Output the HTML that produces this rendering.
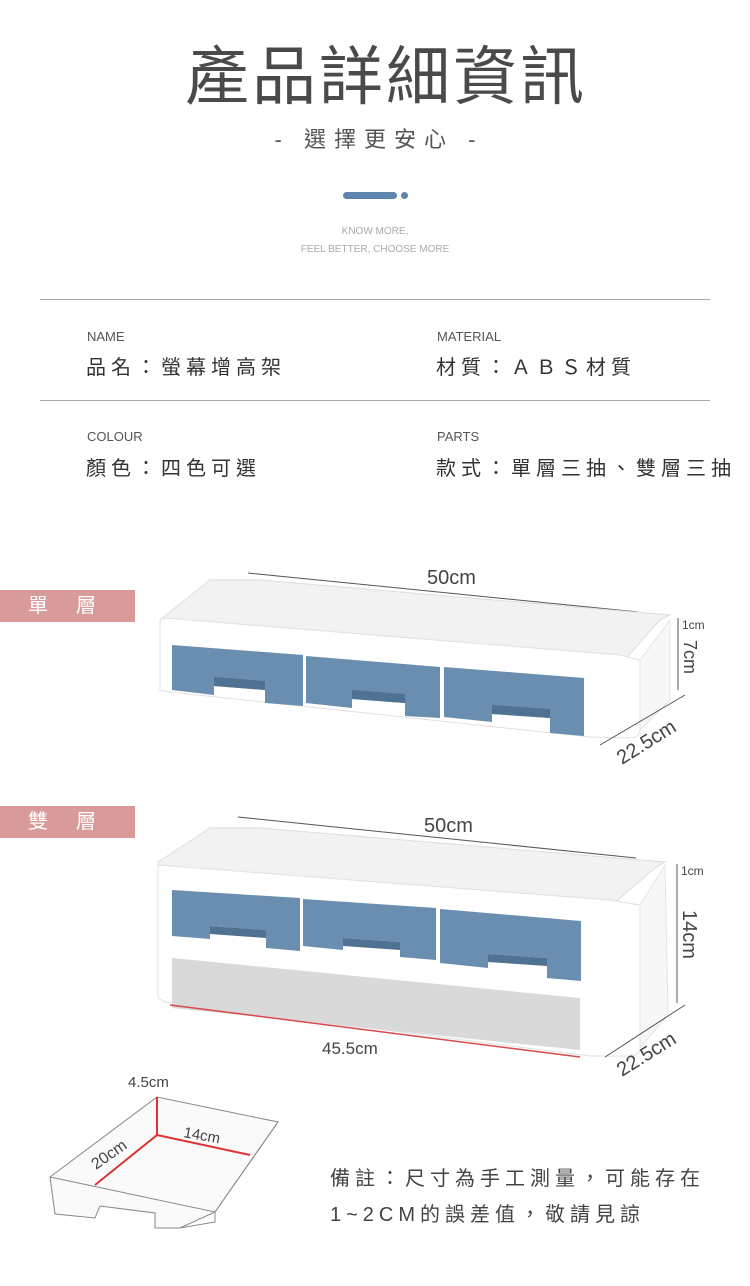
<!DOCTYPE html>
<html><head><meta charset="utf-8"><style>
body{margin:0;width:750px;height:1286px;background:#fff;overflow:hidden;position:relative;font-family:"Liberation Sans","Noto Sans CJK TC",sans-serif;color:#444}
.a{position:absolute;white-space:nowrap}
.t{left:0;width:750px;text-align:center}
.lab{font-size:13px;color:#555}
.val{font-size:20px;letter-spacing:5px;color:#333}
.tag{position:absolute;left:0;width:135px;height:32px;background:#d89a9b;color:#fff;font-size:20px;line-height:32px;letter-spacing:0}
</style></head><body>
<div class="a" style="left:185px;top:26px;font-size:64px;color:#4a4a4a;letter-spacing:3px">產品詳細資訊</div>
<div class="a t" style="top:122px;font-size:22px;color:#555;letter-spacing:8px;text-indent:8px">- 選擇更安心 -</div>
<div class="a" style="left:343px;top:192px;width:54px;height:7px;border-radius:4px;background:#5f84ad"></div>
<div class="a" style="left:401px;top:192px;width:7px;height:7px;border-radius:4px;background:#5f84ad"></div>
<div class="a t" style="top:226px;font-size:10px;color:#aaa">KNOW MORE,</div>
<div class="a t" style="top:244px;font-size:10px;color:#aaa">FEEL BETTER, CHOOSE MORE</div>
<div class="a" style="left:40px;top:299px;width:670px;height:1px;background:#aaa"></div>
<div class="a" style="left:40px;top:400px;width:670px;height:1px;background:#aaa"></div>
<div class="a lab" style="left:87px;top:329px">NAME</div>
<div class="a val" style="left:86px;top:351px">品名：螢幕增高架</div>
<div class="a lab" style="left:437px;top:329px">MATERIAL</div>
<div class="a val" style="left:436px;top:351px">材質：ＡＢＳ材質</div>
<div class="a lab" style="left:87px;top:429px">COLOUR</div>
<div class="a val" style="left:86px;top:452px">顏色：四色可選</div>
<div class="a lab" style="left:437px;top:429px">PARTS</div>
<div class="a val" style="left:436px;top:452px">款式：單層三抽、雙層三抽</div>
<div class="tag" style="top:590px"><span style="margin-left:28px">單</span><span style="margin-left:28px">層</span></div>
<div class="tag" style="top:806px"><span style="margin-left:28px">雙</span><span style="margin-left:28px">層</span></div>

<svg class="a" style="left:0;top:0" width="750" height="1286">
<g font-family="Liberation Sans,sans-serif" fill="#444">
<!-- single -->
<line x1="248" y1="573" x2="638" y2="612" stroke="#555"/>
<text x="427" y="584" font-size="20">50cm</text>
<path d="M160 620 L210 580 L260 580 L670 615 L660 620 L620 665 L600 668 L160 640 Z" fill="#f2f2f2" stroke="#ddd"/>
<path d="M160 622 Q160 618 165 618 L620 655 L640 660 L640 730 Q640 738 630 738 L590 737 L170 692 L160 690 Z" fill="#fff" stroke="#e0e0e0"/>
<path d="M670 620 L640 660 L640 730 L670 700 Z" fill="#f7f7f7" stroke="#e5e5e5"/>
<polygon points="172,645 303,655 303,706 265,703 265,690 214,686 214,695 172,690" fill="#6a8eaf"/>
<polygon points="214,677 265,681 265,690 214,686" fill="#4f7293"/>
<polygon points="306,656 440,667 440,718 405,716 405,703 352,699 352,708 306,703" fill="#6a8eaf"/>
<polygon points="352,690 405,694 405,703 352,699" fill="#4f7293"/>
<polygon points="444,667 584,678 584,736 550,733 550,718 492,714 492,722 444,717" fill="#6a8eaf"/>
<polygon points="492,705 550,709 550,718 492,714" fill="#4f7293"/>
<line x1="678" y1="618" x2="678" y2="690" stroke="#555"/>
<text x="682" y="629" font-size="12">1cm</text>
<text x="684" y="640" font-size="18" transform="rotate(90 684 640)">7cm</text>
<line x1="685" y1="695" x2="600" y2="745" stroke="#555"/>
<text x="622" y="765" font-size="20" transform="rotate(-32 622 765)">22.5cm</text>
<!-- double -->
<line x1="238" y1="817" x2="636" y2="858" stroke="#555"/>
<text x="424" y="832" font-size="20">50cm</text>
<path d="M158 862 L210 828 L260 828 L665 862 L655 868 L612 905 L590 908 L158 880 Z" fill="#f2f2f2" stroke="#ddd"/>
<path d="M158 865 L610 900 L640 905 L640 1048 Q640 1056 630 1056 L590 1056 L165 1002 L158 998 Z" fill="#fff" stroke="#e0e0e0"/>
<path d="M665 865 L640 905 L640 1048 L668 1015 Z" fill="#f7f7f7" stroke="#e5e5e5"/>
<polygon points="172,958 580,998 580,1050 172,1008" fill="#d9d9d9"/>
<polygon points="172,890 300,898 300,951 266,948 266,930 210,926 210,939 172,936" fill="#6a8eaf"/>
<polygon points="210,926 266,930 266,938 210,934" fill="#4f7293"/>
<polygon points="303,899 436,908 436,960 400,957 400,942 343,938 343,950 303,946" fill="#6a8eaf"/>
<polygon points="343,938 400,942 400,950 343,946" fill="#4f7293"/>
<polygon points="440,909 581,921 581,981 547,978 547,958 488,954 488,968 440,963" fill="#6a8eaf"/>
<polygon points="488,954 547,958 547,966 488,962" fill="#4f7293"/>
<line x1="170" y1="1005" x2="580" y2="1057" stroke="#d84a4a" stroke-width="1.5"/>
<text x="322" y="1054" font-size="17">45.5cm</text>
<line x1="677" y1="864" x2="677" y2="1003" stroke="#555"/>
<text x="681" y="875" font-size="12">1cm</text>
<text x="683" y="910" font-size="20" transform="rotate(90 683 910)">14cm</text>
<line x1="685" y1="1005" x2="605" y2="1057" stroke="#555"/>
<text x="622" y="1077" font-size="20" transform="rotate(-32 622 1077)">22.5cm</text>
<!-- drawer -->
<text x="128" y="1087" font-size="15">4.5cm</text>
<path d="M50 1177 L157 1097 L278 1122 L215 1212 L180 1228 L155 1228 L155 1213 L100 1206 L95 1218 L55 1214 Z" fill="#fafafa" stroke="#888"/>
<path d="M50 1177 L215 1212 L278 1122" fill="none" stroke="#888"/>
<path d="M215 1212 L215 1222 L180 1228" fill="none" stroke="#888"/>
<polyline points="157,1097 157,1135 95,1185" fill="none" stroke="#d33" stroke-width="2"/>
<line x1="157" y1="1135" x2="250" y2="1155" stroke="#d33" stroke-width="2"/>
<text x="183" y="1137" font-size="15" transform="rotate(10 183 1137)">14cm</text>
<text x="96" y="1170" font-size="16" transform="rotate(-35 96 1170)">20cm</text>
</g>
</svg>
<div class="a" style="left:330px;top:1162px;font-size:20px;letter-spacing:5px;color:#444">備註：尺寸為手工測量，可能存在</div>
<div class="a" style="left:330px;top:1198px;font-size:20px;letter-spacing:5px;color:#444">1~2CM的誤差值，敬請見諒</div>
</body></html>
